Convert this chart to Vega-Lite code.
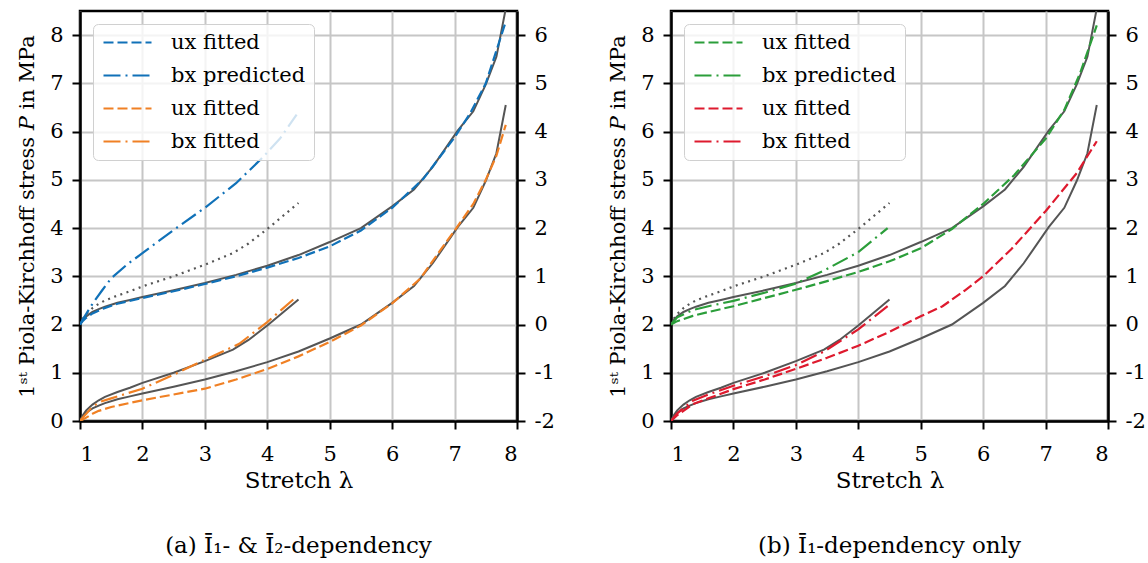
{
  "$schema": "https://vega.github.io/schema/vega-lite/v6.json",
  "padding": {"left": 15, "top": 9, "right": 5, "bottom": 5},
  "background": "white",
  "datasets": {
    "exp": [
      {"test": "ux", "lambda": 1.0, "P": 0}, {"test": "ux", "lambda": 1.05, "P": 0.1}, {"test": "ux", "lambda": 1.1, "P": 0.17}, {"test": "ux", "lambda": 1.2, "P": 0.26}, {"test": "ux", "lambda": 1.3, "P": 0.32}, {"test": "ux", "lambda": 1.4, "P": 0.37}, {"test": "ux", "lambda": 1.6, "P": 0.45}, {"test": "ux", "lambda": 1.8, "P": 0.51}, {"test": "ux", "lambda": 2.0, "P": 0.57}, {"test": "ux", "lambda": 2.5, "P": 0.71}, {"test": "ux", "lambda": 3.0, "P": 0.86}, {"test": "ux", "lambda": 3.5, "P": 1.03}, {"test": "ux", "lambda": 4.0, "P": 1.22}, {"test": "ux", "lambda": 4.5, "P": 1.44}, {"test": "ux", "lambda": 5.0, "P": 1.71}, {"test": "ux", "lambda": 5.5, "P": 2.0}, {"test": "ux", "lambda": 6.0, "P": 2.45}, {"test": "ux", "lambda": 6.35, "P": 2.8}, {"test": "ux", "lambda": 6.65, "P": 3.27}, {"test": "ux", "lambda": 7.05, "P": 4.02}, {"test": "ux", "lambda": 7.3, "P": 4.42}, {"test": "ux", "lambda": 7.5, "P": 4.98}, {"test": "ux", "lambda": 7.67, "P": 5.55}, {"test": "ux", "lambda": 7.82, "P": 6.55},
      {"test": "bx", "lambda": 1.0, "P": 0}, {"test": "bx", "lambda": 1.05, "P": 0.13}, {"test": "bx", "lambda": 1.1, "P": 0.22}, {"test": "bx", "lambda": 1.2, "P": 0.34}, {"test": "bx", "lambda": 1.3, "P": 0.43}, {"test": "bx", "lambda": 1.4, "P": 0.5}, {"test": "bx", "lambda": 1.6, "P": 0.6}, {"test": "bx", "lambda": 1.8, "P": 0.69}, {"test": "bx", "lambda": 2.0, "P": 0.79}, {"test": "bx", "lambda": 2.5, "P": 1.0}, {"test": "bx", "lambda": 3.0, "P": 1.24}, {"test": "bx", "lambda": 3.45, "P": 1.48}, {"test": "bx", "lambda": 3.7, "P": 1.68}, {"test": "bx", "lambda": 4.0, "P": 1.98}, {"test": "bx", "lambda": 4.25, "P": 2.25}, {"test": "bx", "lambda": 4.5, "P": 2.52}
    ],
    "fitA": [
      {"curve": "1 ux fitted", "axis": "R", "lambda": 1.0, "P": 0}, {"curve": "1 ux fitted", "axis": "R", "lambda": 1.05, "P": 0.08}, {"curve": "1 ux fitted", "axis": "R", "lambda": 1.1, "P": 0.14}, {"curve": "1 ux fitted", "axis": "R", "lambda": 1.2, "P": 0.23}, {"curve": "1 ux fitted", "axis": "R", "lambda": 1.37, "P": 0.33}, {"curve": "1 ux fitted", "axis": "R", "lambda": 1.6, "P": 0.43}, {"curve": "1 ux fitted", "axis": "R", "lambda": 2.0, "P": 0.55}, {"curve": "1 ux fitted", "axis": "R", "lambda": 2.5, "P": 0.69}, {"curve": "1 ux fitted", "axis": "R", "lambda": 3.0, "P": 0.84}, {"curve": "1 ux fitted", "axis": "R", "lambda": 3.5, "P": 1.0}, {"curve": "1 ux fitted", "axis": "R", "lambda": 4.0, "P": 1.18}, {"curve": "1 ux fitted", "axis": "R", "lambda": 4.5, "P": 1.38}, {"curve": "1 ux fitted", "axis": "R", "lambda": 5.0, "P": 1.62}, {"curve": "1 ux fitted", "axis": "R", "lambda": 5.5, "P": 1.95}, {"curve": "1 ux fitted", "axis": "R", "lambda": 6.0, "P": 2.42}, {"curve": "1 ux fitted", "axis": "R", "lambda": 6.5, "P": 3.02}, {"curve": "1 ux fitted", "axis": "R", "lambda": 7.0, "P": 3.88}, {"curve": "1 ux fitted", "axis": "R", "lambda": 7.25, "P": 4.38}, {"curve": "1 ux fitted", "axis": "R", "lambda": 7.5, "P": 5.0}, {"curve": "1 ux fitted", "axis": "R", "lambda": 7.82, "P": 6.28},
      {"curve": "2 bx predicted", "axis": "R", "lambda": 1.0, "P": 0}, {"curve": "2 bx predicted", "axis": "R", "lambda": 1.04, "P": 0.1}, {"curve": "2 bx predicted", "axis": "R", "lambda": 1.1, "P": 0.22}, {"curve": "2 bx predicted", "axis": "R", "lambda": 1.21, "P": 0.45}, {"curve": "2 bx predicted", "axis": "R", "lambda": 1.35, "P": 0.7}, {"curve": "2 bx predicted", "axis": "R", "lambda": 1.5, "P": 0.96}, {"curve": "2 bx predicted", "axis": "R", "lambda": 1.75, "P": 1.24}, {"curve": "2 bx predicted", "axis": "R", "lambda": 2.0, "P": 1.48}, {"curve": "2 bx predicted", "axis": "R", "lambda": 2.5, "P": 1.96}, {"curve": "2 bx predicted", "axis": "R", "lambda": 3.0, "P": 2.42}, {"curve": "2 bx predicted", "axis": "R", "lambda": 3.5, "P": 2.93}, {"curve": "2 bx predicted", "axis": "R", "lambda": 3.9, "P": 3.43}, {"curve": "2 bx predicted", "axis": "R", "lambda": 4.2, "P": 3.85}, {"curve": "2 bx predicted", "axis": "R", "lambda": 4.47, "P": 4.35},
      {"curve": "3 ux fitted", "axis": "L", "lambda": 1.0, "P": 0}, {"curve": "3 ux fitted", "axis": "L", "lambda": 1.1, "P": 0.07}, {"curve": "3 ux fitted", "axis": "L", "lambda": 1.2, "P": 0.15}, {"curve": "3 ux fitted", "axis": "L", "lambda": 1.3, "P": 0.21}, {"curve": "3 ux fitted", "axis": "L", "lambda": 1.5, "P": 0.29}, {"curve": "3 ux fitted", "axis": "L", "lambda": 2.0, "P": 0.43}, {"curve": "3 ux fitted", "axis": "L", "lambda": 2.5, "P": 0.55}, {"curve": "3 ux fitted", "axis": "L", "lambda": 3.0, "P": 0.67}, {"curve": "3 ux fitted", "axis": "L", "lambda": 3.5, "P": 0.86}, {"curve": "3 ux fitted", "axis": "L", "lambda": 4.0, "P": 1.08}, {"curve": "3 ux fitted", "axis": "L", "lambda": 4.5, "P": 1.34}, {"curve": "3 ux fitted", "axis": "L", "lambda": 5.0, "P": 1.64}, {"curve": "3 ux fitted", "axis": "L", "lambda": 5.5, "P": 1.98}, {"curve": "3 ux fitted", "axis": "L", "lambda": 6.0, "P": 2.44}, {"curve": "3 ux fitted", "axis": "L", "lambda": 6.45, "P": 2.95}, {"curve": "3 ux fitted", "axis": "L", "lambda": 6.75, "P": 3.5}, {"curve": "3 ux fitted", "axis": "L", "lambda": 7.05, "P": 4.04}, {"curve": "3 ux fitted", "axis": "L", "lambda": 7.3, "P": 4.5}, {"curve": "3 ux fitted", "axis": "L", "lambda": 7.5, "P": 5.0}, {"curve": "3 ux fitted", "axis": "L", "lambda": 7.67, "P": 5.5}, {"curve": "3 ux fitted", "axis": "L", "lambda": 7.82, "P": 6.14},
      {"curve": "4 bx fitted", "axis": "L", "lambda": 1.0, "P": 0}, {"curve": "4 bx fitted", "axis": "L", "lambda": 1.05, "P": 0.08}, {"curve": "4 bx fitted", "axis": "L", "lambda": 1.1, "P": 0.15}, {"curve": "4 bx fitted", "axis": "L", "lambda": 1.2, "P": 0.3}, {"curve": "4 bx fitted", "axis": "L", "lambda": 1.35, "P": 0.41}, {"curve": "4 bx fitted", "axis": "L", "lambda": 1.5, "P": 0.47}, {"curve": "4 bx fitted", "axis": "L", "lambda": 2.0, "P": 0.67}, {"curve": "4 bx fitted", "axis": "L", "lambda": 2.5, "P": 0.96}, {"curve": "4 bx fitted", "axis": "L", "lambda": 3.0, "P": 1.27}, {"curve": "4 bx fitted", "axis": "L", "lambda": 3.55, "P": 1.6}, {"curve": "4 bx fitted", "axis": "L", "lambda": 4.0, "P": 2.05}, {"curve": "4 bx fitted", "axis": "L", "lambda": 4.47, "P": 2.58}
    ],
    "fitB": [
      {"curve": "1 ux fitted", "axis": "R", "lambda": 1.0, "P": 0}, {"curve": "1 ux fitted", "axis": "R", "lambda": 1.1, "P": 0.07}, {"curve": "1 ux fitted", "axis": "R", "lambda": 1.35, "P": 0.18}, {"curve": "1 ux fitted", "axis": "R", "lambda": 1.6, "P": 0.26}, {"curve": "1 ux fitted", "axis": "R", "lambda": 2.0, "P": 0.38}, {"curve": "1 ux fitted", "axis": "R", "lambda": 2.5, "P": 0.55}, {"curve": "1 ux fitted", "axis": "R", "lambda": 3.0, "P": 0.72}, {"curve": "1 ux fitted", "axis": "R", "lambda": 3.5, "P": 0.9}, {"curve": "1 ux fitted", "axis": "R", "lambda": 4.0, "P": 1.09}, {"curve": "1 ux fitted", "axis": "R", "lambda": 4.5, "P": 1.31}, {"curve": "1 ux fitted", "axis": "R", "lambda": 5.0, "P": 1.58}, {"curve": "1 ux fitted", "axis": "R", "lambda": 5.5, "P": 1.98}, {"curve": "1 ux fitted", "axis": "R", "lambda": 6.0, "P": 2.5}, {"curve": "1 ux fitted", "axis": "R", "lambda": 6.5, "P": 3.1}, {"curve": "1 ux fitted", "axis": "R", "lambda": 7.0, "P": 3.85}, {"curve": "1 ux fitted", "axis": "R", "lambda": 7.3, "P": 4.45}, {"curve": "1 ux fitted", "axis": "R", "lambda": 7.55, "P": 5.2}, {"curve": "1 ux fitted", "axis": "R", "lambda": 7.82, "P": 6.2},
      {"curve": "2 bx predicted", "axis": "R", "lambda": 1.0, "P": 0}, {"curve": "2 bx predicted", "axis": "R", "lambda": 1.1, "P": 0.15}, {"curve": "2 bx predicted", "axis": "R", "lambda": 1.35, "P": 0.3}, {"curve": "2 bx predicted", "axis": "R", "lambda": 1.6, "P": 0.38}, {"curve": "2 bx predicted", "axis": "R", "lambda": 2.0, "P": 0.49}, {"curve": "2 bx predicted", "axis": "R", "lambda": 2.5, "P": 0.66}, {"curve": "2 bx predicted", "axis": "R", "lambda": 3.0, "P": 0.85}, {"curve": "2 bx predicted", "axis": "R", "lambda": 3.45, "P": 1.12}, {"curve": "2 bx predicted", "axis": "R", "lambda": 4.0, "P": 1.5}, {"curve": "2 bx predicted", "axis": "R", "lambda": 4.47, "P": 2.0},
      {"curve": "3 ux fitted", "axis": "L", "lambda": 1.0, "P": 0}, {"curve": "3 ux fitted", "axis": "L", "lambda": 1.1, "P": 0.12}, {"curve": "3 ux fitted", "axis": "L", "lambda": 1.35, "P": 0.35}, {"curve": "3 ux fitted", "axis": "L", "lambda": 1.6, "P": 0.47}, {"curve": "3 ux fitted", "axis": "L", "lambda": 2.0, "P": 0.66}, {"curve": "3 ux fitted", "axis": "L", "lambda": 2.5, "P": 0.86}, {"curve": "3 ux fitted", "axis": "L", "lambda": 3.0, "P": 1.08}, {"curve": "3 ux fitted", "axis": "L", "lambda": 3.5, "P": 1.31}, {"curve": "3 ux fitted", "axis": "L", "lambda": 4.0, "P": 1.56}, {"curve": "3 ux fitted", "axis": "L", "lambda": 4.5, "P": 1.85}, {"curve": "3 ux fitted", "axis": "L", "lambda": 5.0, "P": 2.17}, {"curve": "3 ux fitted", "axis": "L", "lambda": 5.35, "P": 2.38}, {"curve": "3 ux fitted", "axis": "L", "lambda": 5.7, "P": 2.7}, {"curve": "3 ux fitted", "axis": "L", "lambda": 6.0, "P": 3.0}, {"curve": "3 ux fitted", "axis": "L", "lambda": 6.45, "P": 3.56}, {"curve": "3 ux fitted", "axis": "L", "lambda": 7.0, "P": 4.35}, {"curve": "3 ux fitted", "axis": "L", "lambda": 7.5, "P": 5.14}, {"curve": "3 ux fitted", "axis": "L", "lambda": 7.82, "P": 5.8},
      {"curve": "4 bx fitted", "axis": "L", "lambda": 1.0, "P": 0}, {"curve": "4 bx fitted", "axis": "L", "lambda": 1.1, "P": 0.16}, {"curve": "4 bx fitted", "axis": "L", "lambda": 1.35, "P": 0.42}, {"curve": "4 bx fitted", "axis": "L", "lambda": 1.6, "P": 0.55}, {"curve": "4 bx fitted", "axis": "L", "lambda": 2.0, "P": 0.73}, {"curve": "4 bx fitted", "axis": "L", "lambda": 2.5, "P": 0.93}, {"curve": "4 bx fitted", "axis": "L", "lambda": 3.0, "P": 1.16}, {"curve": "4 bx fitted", "axis": "L", "lambda": 3.45, "P": 1.44}, {"curve": "4 bx fitted", "axis": "L", "lambda": 4.0, "P": 1.9}, {"curve": "4 bx fitted", "axis": "L", "lambda": 4.47, "P": 2.38}
    ]
  },
  "hconcat": [
    {
      "width": 437,
      "height": 410,
      "title": {"text": "(a) Ī₁- & Ī₂-dependency", "orient": "bottom", "anchor": "middle", "offset": 43},
      "layer": [
        {
          "encoding": {
            "x": {"field": "lambda", "type": "quantitative", "scale": {"domain": [1, 8], "nice": false, "zero": false}, "axis": {"values": [1, 2, 3, 4, 5, 6, 7, 8], "title": "Stretch λ", "grid": true, "labelPadding": 14}},
            "y": {"field": "P", "type": "quantitative", "scale": {"domain": [0, 8.5], "nice": false, "zero": false}, "axis": {"values": [0, 1, 2, 3, 4, 5, 6, 7, 8], "title": "1ˢᵗ Piola-Kirchhoff stress 𝑃 in MPa", "grid": true, "orient": "left", "titleFontSize": 21, "titlePadding": 12}}
          },
          "layer": [
            {"data": {"name": "exp"}, "mark": {"type": "line", "color": "#555555", "strokeWidth": 2, "clip": true}, "encoding": {"detail": {"field": "test"}}},
            {"data": {"name": "fitA"}, "transform": [{"filter": "datum.axis === 'L'"}], "mark": {"type": "line", "strokeWidth": 2.2, "clip": true},
              "encoding": {
                "color": {"field": "curve", "type": "nominal", "scale": {"domain": ["1 ux fitted", "2 bx predicted", "3 ux fitted", "4 bx fitted"], "range": ["#1071b8", "#1071b8", "#f08024", "#f08024"]}, "legend": {"title": null, "labelExpr": "slice(datum.label, 2)"}},
                "strokeDash": {"field": "curve", "type": "nominal", "scale": {"domain": ["1 ux fitted", "2 bx predicted", "3 ux fitted", "4 bx fitted"], "range": [[10, 4], [17, 5, 2, 5], [10, 4], [17, 5, 2, 5]]}, "legend": {"title": null, "labelExpr": "slice(datum.label, 2)"}}
              }}
          ]
        },
        {
          "encoding": {
            "x": {"field": "lambda", "type": "quantitative", "scale": {"domain": [1, 8], "nice": false, "zero": false}, "axis": {"values": [1, 2, 3, 4, 5, 6, 7, 8], "title": "Stretch λ", "grid": true, "labelPadding": 14}},
            "y": {"field": "P", "type": "quantitative", "scale": {"domain": [-2, 6.5], "nice": false, "zero": false}, "axis": {"values": [-2, -1, 0, 1, 2, 3, 4, 5, 6], "title": null, "grid": false, "orient": "right", "labelExpr": "'' + datum.value"}}
          },
          "layer": [
            {"data": {"name": "exp"}, "transform": [{"filter": "datum.test === 'ux'"}], "mark": {"type": "line", "color": "#555555", "strokeWidth": 2, "clip": true}},
            {"data": {"name": "exp"}, "transform": [{"filter": "datum.test === 'bx'"}], "mark": {"type": "line", "color": "#555555", "strokeWidth": 2.2, "strokeDash": [2, 4.5], "clip": true}},
            {"data": {"name": "fitA"}, "transform": [{"filter": "datum.axis === 'R'"}], "mark": {"type": "line", "strokeWidth": 2.2, "clip": true},
              "encoding": {
                "color": {"field": "curve", "type": "nominal", "scale": {"domain": ["1 ux fitted", "2 bx predicted", "3 ux fitted", "4 bx fitted"], "range": ["#1071b8", "#1071b8", "#f08024", "#f08024"]}, "legend": {"title": null, "labelExpr": "slice(datum.label, 2)"}},
                "strokeDash": {"field": "curve", "type": "nominal", "scale": {"domain": ["1 ux fitted", "2 bx predicted", "3 ux fitted", "4 bx fitted"], "range": [[10, 4], [17, 5, 2, 5], [10, 4], [17, 5, 2, 5]]}, "legend": {"title": null, "labelExpr": "slice(datum.label, 2)"}}
              }}
          ]
        }
      ],
      "resolve": {"scale": {"y": "independent"}, "axis": {"y": "independent"}}
    },
    {
      "width": 437,
      "height": 410,
      "title": {"text": "(b) Ī₁-dependency only", "orient": "bottom", "anchor": "middle", "offset": 43},
      "layer": [
        {
          "encoding": {
            "x": {"field": "lambda", "type": "quantitative", "scale": {"domain": [1, 8], "nice": false, "zero": false}, "axis": {"values": [1, 2, 3, 4, 5, 6, 7, 8], "title": "Stretch λ", "grid": true, "labelPadding": 14}},
            "y": {"field": "P", "type": "quantitative", "scale": {"domain": [0, 8.5], "nice": false, "zero": false}, "axis": {"values": [0, 1, 2, 3, 4, 5, 6, 7, 8], "title": "1ˢᵗ Piola-Kirchhoff stress 𝑃 in MPa", "grid": true, "orient": "left", "titleFontSize": 21, "titlePadding": 12}}
          },
          "layer": [
            {"data": {"name": "exp"}, "mark": {"type": "line", "color": "#555555", "strokeWidth": 2, "clip": true}, "encoding": {"detail": {"field": "test"}}},
            {"data": {"name": "fitB"}, "transform": [{"filter": "datum.axis === 'L'"}], "mark": {"type": "line", "strokeWidth": 2.2, "clip": true},
              "encoding": {
                "color": {"field": "curve", "type": "nominal", "scale": {"domain": ["1 ux fitted", "2 bx predicted", "3 ux fitted", "4 bx fitted"], "range": ["#2b9e3a", "#2b9e3a", "#de1a2e", "#de1a2e"]}, "legend": {"title": null, "labelExpr": "slice(datum.label, 2)"}},
                "strokeDash": {"field": "curve", "type": "nominal", "scale": {"domain": ["1 ux fitted", "2 bx predicted", "3 ux fitted", "4 bx fitted"], "range": [[10, 4], [17, 5, 2, 5], [10, 4], [17, 5, 2, 5]]}, "legend": {"title": null, "labelExpr": "slice(datum.label, 2)"}}
              }}
          ]
        },
        {
          "encoding": {
            "x": {"field": "lambda", "type": "quantitative", "scale": {"domain": [1, 8], "nice": false, "zero": false}, "axis": {"values": [1, 2, 3, 4, 5, 6, 7, 8], "title": "Stretch λ", "grid": true, "labelPadding": 14}},
            "y": {"field": "P", "type": "quantitative", "scale": {"domain": [-2, 6.5], "nice": false, "zero": false}, "axis": {"values": [-2, -1, 0, 1, 2, 3, 4, 5, 6], "title": null, "grid": false, "orient": "right", "labelExpr": "'' + datum.value"}}
          },
          "layer": [
            {"data": {"name": "exp"}, "transform": [{"filter": "datum.test === 'ux'"}], "mark": {"type": "line", "color": "#555555", "strokeWidth": 2, "clip": true}},
            {"data": {"name": "exp"}, "transform": [{"filter": "datum.test === 'bx'"}], "mark": {"type": "line", "color": "#555555", "strokeWidth": 2.2, "strokeDash": [2, 4.5], "clip": true}},
            {"data": {"name": "fitB"}, "transform": [{"filter": "datum.axis === 'R'"}], "mark": {"type": "line", "strokeWidth": 2.2, "clip": true},
              "encoding": {
                "color": {"field": "curve", "type": "nominal", "scale": {"domain": ["1 ux fitted", "2 bx predicted", "3 ux fitted", "4 bx fitted"], "range": ["#2b9e3a", "#2b9e3a", "#de1a2e", "#de1a2e"]}, "legend": {"title": null, "labelExpr": "slice(datum.label, 2)"}},
                "strokeDash": {"field": "curve", "type": "nominal", "scale": {"domain": ["1 ux fitted", "2 bx predicted", "3 ux fitted", "4 bx fitted"], "range": [[10, 4], [17, 5, 2, 5], [10, 4], [17, 5, 2, 5]]}, "legend": {"title": null, "labelExpr": "slice(datum.label, 2)"}}
              }}
          ]
        }
      ],
      "resolve": {"scale": {"y": "independent"}, "axis": {"y": "independent"}}
    }
  ],
  "spacing": 154,
  "bounds": "flush",
  "resolve": {"scale": {"color": "independent", "strokeDash": "independent", "x": "independent"}, "legend": {"color": "independent", "strokeDash": "independent"}},
  "config": {
    "font": "DejaVu Serif",
    "view": {"stroke": "black", "strokeWidth": 2.5},
    "axis": {"labelFont": "DejaVu Serif", "labelFontSize": 21, "titleFont": "DejaVu Serif", "titleFontSize": 23, "titleFontWeight": "normal", "labelColor": "black", "titleColor": "black", "domainColor": "black", "domainWidth": 2.5, "tickColor": "black", "tickWidth": 2, "tickSize": 8, "gridColor": "#c6c6c6", "gridWidth": 2, "gridOpacity": 1, "labelPadding": 9, "titlePadding": 5},
    "legend": {"orient": "top-left", "offset": 13, "padding": 8, "rowPadding": 11, "fillColor": "rgba(255,255,255,0.8)", "strokeColor": "#d0d0d0", "cornerRadius": 5, "labelFont": "DejaVu Serif", "labelFontSize": 21, "labelColor": "black", "symbolType": "M-1,0H5", "symbolSize": 256, "symbolStrokeWidth": 2.2, "labelOffset": 49},
    "title": {"font": "DejaVu Serif", "fontSize": 23, "fontWeight": "normal", "color": "black"}
  }
}
